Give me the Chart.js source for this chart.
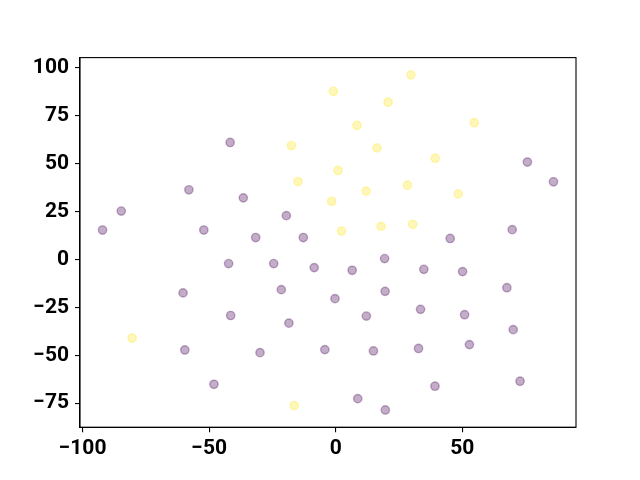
<!DOCTYPE html>
<html>
<head>
<meta charset="utf-8">
<script src="https://cdn.jsdelivr.net/npm/chart.js@4"></script>
<style>
html,body{margin:0;padding:0;background:#fff;}
#wrap{width:640px;height:480px;}
</style>
</head>
<body>
<div id="wrap"><canvas id="c" width="640" height="480"></canvas></div>
<script>
const yellowX = [29.7, -0.9, 20.7, 54.7, 8.4, -17.5, 16.3, 39.3, 0.9, -14.9, 28.3, 12.0, 48.4, -1.6, 30.4, 17.9, 2.3, -80.4, -16.4];
const yellowY = [96.4, 87.8, 82.1, 71.4, 70.0, 59.5, 58.3, 52.9, 46.5, 40.7, 38.8, 35.7, 34.3, 30.4, 18.4, 17.3, 14.9, -41.0, -76.2];

const purpleX = [-41.7, 75.7, 86.0, -58.0, -84.7, -36.5, -19.5, -92.1, -52.1, -31.6, -12.8, 45.2, 69.7,
  -42.3, -24.5, -8.5, 6.5, 19.3, 34.8, 50.1, -60.3, -21.5, -0.3, 19.5, 67.6,
  -41.5, -18.5, 12.1, 33.5, 50.9, 70.1, -59.6, -29.9, -4.3, 14.9, 32.7, 52.8,
  -48.1, 39.2, 72.8, 8.7, 19.6];
const purpleY = [61.1, 50.9, 40.6, 36.4, 25.3, 32.2, 22.9, 15.4, 15.4, 11.5, 11.5, 11.0, 15.6,
  -2.1, -2.1, -4.2, -5.6, 0.5, -5.1, -6.3, -17.4, -15.7, -20.4, -16.6, -14.7,
  -29.2, -33.2, -29.5, -26.0, -28.8, -36.6, -47.2, -48.6, -47.0, -47.7, -46.4, -44.4,
  -65.1, -66.1, -63.5, -72.6, -78.5];

const xTicks = [-100, -50, 0, 50];
const yTicks = [-75, -50, -25, 0, 25, 50, 75, 100];

const toPts = (xs, ys) => xs.map((x, i) => ({x: x, y: ys[i]}));

const frame = {
  id: 'frame',
  afterDraw(chart) {
    const a = chart.chartArea, ctx = chart.ctx;
    ctx.save();
    ctx.strokeStyle = '#000';
    ctx.lineWidth = 1.1;
    ctx.strokeRect(a.left, a.top, a.right - a.left, a.bottom - a.top);
    ctx.restore();
  }
};

const tickFont = {family: 'Roboto', size: 21, weight: 'bold'};
const minus = v => String(v).replace('-', '\u2212');

new Chart(document.getElementById('c'), {
  type: 'scatter',
  data: {
    datasets: [
      {
        data: toPts(purpleX, purpleY),
        backgroundColor: 'rgba(68,1,84,0.32)',
        borderColor: 'rgba(68,1,84,0.32)',
        borderWidth: 1.4,
        pointRadius: 4.17,
        pointHoverRadius: 4.17
      },
      {
        data: toPts(yellowX, yellowY),
        backgroundColor: 'rgba(253,231,37,0.32)',
        borderColor: 'rgba(253,231,37,0.32)',
        borderWidth: 1.4,
        pointRadius: 4.17,
        pointHoverRadius: 4.17
      }
    ]
  },
  options: {
    responsive: false,
    animation: false,
    devicePixelRatio: 1,
    layout: {padding: {left: 0, top: 57.6, right: 64, bottom: 0}},
    plugins: {legend: {display: false}, tooltip: {enabled: false}},
    scales: {
      x: {
        type: 'linear',
        min: -101.0,
        max: 94.9,
        afterBuildTicks: s => { s.ticks = xTicks.map(v => ({value: v})); },
        afterFit: s => { s.height = 52.8; },
        grid: {drawOnChartArea: false, drawTicks: true, tickLength: 5, color: '#000', lineWidth: 1.1},
        border: {display: true, color: '#000', width: 1.1},
        ticks: {color: '#000', font: tickFont, padding: 4, maxRotation: 0, autoSkip: false, callback: minus}
      },
      y: {
        type: 'linear',
        min: -87.5,
        max: 105.4,
        afterBuildTicks: s => { s.ticks = yTicks.map(v => ({value: v})); },
        afterFit: s => { s.width = 80; },
        grid: {drawOnChartArea: false, drawTicks: true, tickLength: 5, color: '#000', lineWidth: 1.1},
        border: {display: true, color: '#000', width: 1.1},
        ticks: {color: '#000', font: tickFont, padding: 6, autoSkip: false, callback: minus}
      }
    }
  },
  plugins: [frame]
});
</script>
</body>
</html>
